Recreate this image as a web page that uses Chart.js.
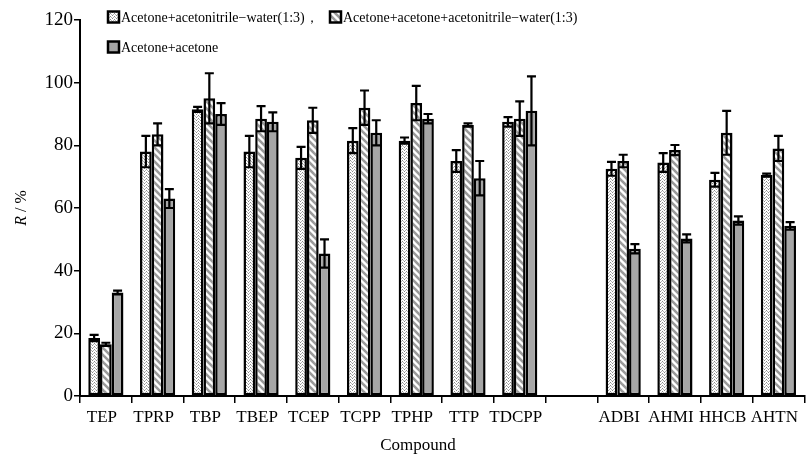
<!DOCTYPE html>
<html>
<head>
<meta charset="utf-8">
<script src="https://cdn.jsdelivr.net/npm/chart.js@4/dist/chart.umd.min.js"></script>
<style>
  html, body { margin: 0; padding: 0; background: #fff; }
  #wrap { width: 806px; height: 454px; }
</style>
</head>
<body>
<div id="wrap"><canvas id="chart"></canvas></div>
<script>
const categories = ["TEP", "TPRP", "TBP", "TBEP", "TCEP", "TCPP", "TPHP", "TTP", "TDCPP", "", "ADBI", "AHMI", "HHCB", "AHTN"];
const seriesNames = [
    "Acetone+acetonitrile\u2212water(1:3)\uff0c",
    "Acetone+acetone+acetonitrile\u2212water(1:3)",
    "Acetone+acetone"
];
const mixWater = [18.5, 78, 91.5, 78, 76, 81.5, 81.5, 75, 87.5, null, 72.5, 74.5, 69, 70.5];
const mixWaterErr = [1, 5, 0.8, 5, 3.5, 4, 1, 3.5, 1.5, null, 2.2, 3, 2.2, 0.5];
const mixAcetone = [16.5, 83.5, 95, 88.5, 88, 92, 93.5, 86.5, 88.5, null, 75, 78.5, 84, 79];
const mixAcetoneErr = [0.5, 3.5, 8, 4, 4, 5.5, 5.5, 0.5, 5.5, null, 2, 1.6, 7, 4];
const acetoneOnly = [33, 63, 90, 87.5, 45.5, 84, 88.5, 69.5, 91, null, 47, 50.3, 56, 54.3];
const acetoneOnlyErr = [0.6, 3, 3.5, 3, 4.5, 4, 1.5, 5.5, 11, null, 1.5, 1.3, 1.3, 1.2];
const yTicks = [0, 20, 40, 60, 80, 100, 120];

const serif = "'Liberation Serif', 'DejaVu Serif', serif";

function dotPattern() {
    const c = document.createElement("canvas");
    c.width = 4; c.height = 3;
    const g = c.getContext("2d");
    g.fillStyle = "#fff";
    g.fillRect(0, 0, 4, 3);
    g.fillStyle = "#8a8a8a";
    g.fillRect(0, 0, 1, 1);
    g.fillRect(2, 1, 1, 1);
    g.fillStyle = "#b5b5b5";
    g.fillRect(1, 2, 1, 1);
    g.fillRect(3, 2, 1, 1);
    return g.createPattern(c, "repeat");
}

function stripePattern() {
    const s = 7;
    const c = document.createElement("canvas");
    c.width = s; c.height = s;
    const g = c.getContext("2d");
    g.fillStyle = "#fff";
    g.fillRect(0, 0, s, s);
    g.strokeStyle = "#9a9a9a";
    g.lineWidth = 2.6;
    // lines going down to the right
    for (let k = -1; k <= 1; k++) {
        g.beginPath();
        g.moveTo(k * s - 1, -1);
        g.lineTo(k * s + s + 1, s + 1);
        g.stroke();
    }
    return g.createPattern(c, "repeat");
}

const fills = [dotPattern(), stripePattern(), "#a6a6a6"];
const errors = [mixWaterErr, mixAcetoneErr, acetoneOnlyErr];

const errorBars = {
    id: "errorBars",
    afterDatasetsDraw(chart) {
        const ctx = chart.ctx;
        const y = chart.scales.y;
        ctx.save();
        ctx.strokeStyle = "#000";
        ctx.lineWidth = 2.2;
        chart.data.datasets.forEach((ds, di) => {
            const meta = chart.getDatasetMeta(di);
            meta.data.forEach((bar, i) => {
                const v = ds.data[i];
                const e = errors[di][i];
                if (v == null || e == null) return;
                const x = bar.x;
                const yTop = y.getPixelForValue(v + e);
                const yBot = y.getPixelForValue(v - e);
                const half = 4.5;
                ctx.beginPath();
                ctx.moveTo(x, yTop); ctx.lineTo(x, yBot);
                ctx.moveTo(x - half, yTop); ctx.lineTo(x + half, yTop);
                ctx.moveTo(x - half, yBot); ctx.lineTo(x + half, yBot);
                ctx.stroke();
            });
        });
        ctx.restore();
    }
};

const legendAndTitles = {
    id: "legendAndTitles",
    afterDraw(chart) {
        const ctx = chart.ctx;
        ctx.save();
        // legend
        const items = [
            { x: 108, y: 17 },
            { x: 330, y: 17 },
            { x: 108, y: 47 }
        ];
        ctx.font = "14px " + serif;
        ctx.textBaseline = "middle";
        ctx.textAlign = "left";
        items.forEach((it, i) => {
            ctx.fillStyle = fills[i];
            ctx.fillRect(it.x, it.y - 5.5, 11, 11);
            ctx.strokeStyle = "#000";
            ctx.lineWidth = 2.5;
            ctx.strokeRect(it.x, it.y - 5.5, 11, 11);
            ctx.fillStyle = "#000";
            ctx.fillText(seriesNames[i], it.x + 13, it.y + 1);
        });
        // y title: italic R then " / %"
        ctx.translate(22, 208);
        ctx.rotate(-Math.PI / 2);
        ctx.textAlign = "left";
        ctx.font = "italic 16px " + serif;
        const rW = ctx.measureText("R").width;
        ctx.font = "16px " + serif;
        const restW = ctx.measureText(" / %").width;
        const start = -(rW + restW) / 2;
        ctx.font = "italic 16px " + serif;
        ctx.fillText("R", start, 0);
        ctx.font = "16px " + serif;
        ctx.fillText(" / %", start + rW, 0);
        ctx.setTransform(1, 0, 0, 1, 0, 0);
        // x title
        ctx.textAlign = "center";
        ctx.font = "17px " + serif;
        ctx.fillText("Compound", 418, 446);
        ctx.restore();
    }
};

new Chart(document.getElementById("chart"), {
    type: "bar",
    data: {
        labels: categories,
        datasets: [mixWater, mixAcetone, acetoneOnly].map((d, i) => ({
            label: seriesNames[i],
            data: d,
            backgroundColor: fills[i],
            borderColor: "#000",
            borderWidth: 2.5,
            borderSkipped: false,
            categoryPercentage: 0.68,
            barPercentage: 1
        }))
    },
    options: {
        responsive: true,
        maintainAspectRatio: false,
        animation: false,
        layout: { padding: { top: 20, right: 0, bottom: 0, left: 0 } },
        plugins: {
            legend: { display: false },
            tooltip: { enabled: false }
        },
        scales: {
            x: {
                grid: { offset: true, drawOnChartArea: false, drawTicks: true, tickLength: 7, color: "#000", lineWidth: 1.5 },
                border: { display: true, color: "#000", width: 2 },
                ticks: { color: "#000", font: { family: serif, size: 17 }, padding: 4, labelOffset: -4, maxRotation: 0, autoSkip: false },
                afterFit: s => { s.height = 58; }
            },
            y: {
                min: 0,
                max: 120,
                afterBuildTicks: s => { s.ticks = yTicks.map(v => ({ value: v })); },
                grid: { drawOnChartArea: false, drawTicks: true, tickLength: 6, color: "#000", lineWidth: 1.5 },
                border: { display: true, color: "#000", width: 2 },
                ticks: { color: "#000", font: { family: serif, size: 19 }, padding: 1 },
                afterFit: s => { s.width = 80; }
            }
        }
    },
    plugins: [errorBars, legendAndTitles]
});
</script>
</body>
</html>
